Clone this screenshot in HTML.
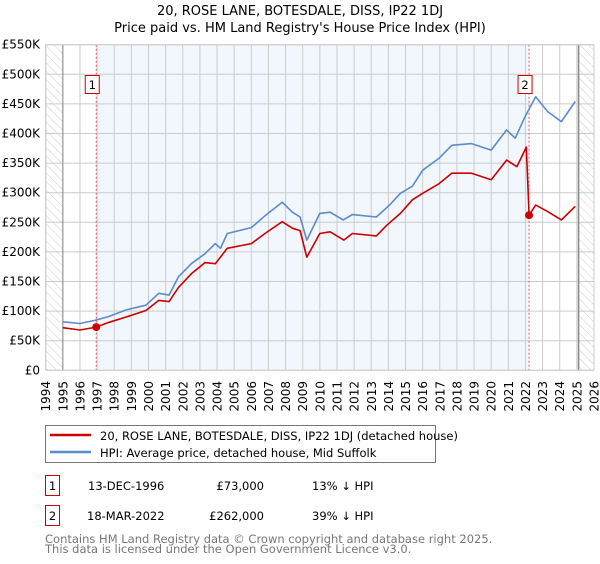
<!DOCTYPE html>
<html><head><meta charset="utf-8">
<style>
body{margin:0;background:#fff;font-family:"DejaVu Sans","Liberation Sans",sans-serif;}
svg text{font-family:"DejaVu Sans","Liberation Sans",sans-serif;}
</style></head>
<body>
<svg id="chart" width="600" height="560" viewBox="0 0 600 560">
<defs>
<pattern id="hatch" width="6" height="6" patternUnits="userSpaceOnUse" patternTransform="rotate(-45)">
<line x1="0" y1="0" x2="0" y2="6" stroke="#ccc" stroke-width="1"/>
</pattern>
</defs>
<text x="300" y="15" text-anchor="middle" font-size="13" fill="#000">20, ROSE LANE, BOTESDALE, DISS, IP22 1DJ</text>
<text x="300" y="32" text-anchor="middle" font-size="13" fill="#000">Price paid vs. HM Land Registry's House Price Index (HPI)</text>
<g id="plot"></g>
<g>
<rect x="45.5" y="425.5" width="390" height="37" fill="#fff" stroke="#777" stroke-width="1"/>
<line x1="50" y1="435" x2="91" y2="435" stroke="#cc0000" stroke-width="2.5"/>
<text x="100" y="440" font-size="11.5" fill="#000">20, ROSE LANE, BOTESDALE, DISS, IP22 1DJ (detached house)</text>
<line x1="50" y1="452" x2="91" y2="452" stroke="#5b8ccc" stroke-width="2.5"/>
<text x="100" y="457" font-size="11.5" fill="#000">HPI: Average price, detached house, Mid Suffolk</text>
</g>
<g>
<rect x="45.5" y="475.5" width="14" height="20" fill="#fff" stroke="#cc0000"/>
<text x="52.5" y="490" text-anchor="middle" font-size="11.5">1</text>
<text x="88" y="490" font-size="11.5">13-DEC-1996</text>
<text x="264" y="490" text-anchor="end" font-size="11.5">£73,000</text>
<text x="312" y="490" font-size="11.5">13% ↓ HPI</text>
<rect x="45.5" y="505.5" width="14" height="20" fill="#fff" stroke="#cc0000"/>
<text x="52.5" y="520" text-anchor="middle" font-size="11.5">2</text>
<text x="87" y="520" font-size="11.5">18-MAR-2022</text>
<text x="264" y="520" text-anchor="end" font-size="11.5">£262,000</text>
<text x="312" y="520" font-size="11.5">39% ↓ HPI</text>
</g>
<text x="45" y="543" font-size="11.5" fill="#777">Contains HM Land Registry data © Crown copyright and database right 2025.</text>
<text x="45" y="553" font-size="11.5" fill="#777">This data is licensed under the Open Government Licence v3.0.</text>
</svg>
<script>
const yearTicks=[1994,1995,1996,1997,1998,1999,2000,2001,2002,2003,2004,2005,2006,2007,2008,2009,2010,2011,2012,2013,2014,2015,2016,2017,2018,2019,2020,2021,2022,2023,2024,2025,2026];
const valueTicks=[0,50,100,150,200,250,300,350,400,450,500,550];
const valueLabels=["£0","£50K","£100K","£150K","£200K","£250K","£300K","£350K","£400K","£450K","£500K","£550K"];
const hpiYears=[1995,1996,1996.96,1997.7,1998.7,1999.85,2000.6,2001.2,2001.75,2002.5,2003.3,2003.9,2004.2,2004.6,2006.0,2006.8,2007.8,2008.4,2008.85,2009.24,2010.0,2010.6,2011.36,2011.9,2013.3,2014.1,2014.7,2015.4,2016.0,2016.95,2017.7,2018.85,2020.0,2020.9,2021.4,2022.0,2022.6,2023.3,2024.1,2024.9];
const hpiValues=[82,79,85,91,102,110,130,127,158,180,197,214,206,231,241,261,284,267,259,220,265,267,254,263,259,280,299,311,338,358,380,383,372,406,392,430,462,437,420,454];
const propYears=[1995,1996,1996.95,1997.7,1998.7,1999.85,2000.6,2001.2,2001.75,2002.5,2003.3,2003.9,2004.6,2006.0,2006.8,2007.8,2008.4,2008.85,2009.24,2010.0,2010.6,2011.4,2011.9,2013.3,2013.9,2014.7,2015.4,2016.0,2016.95,2017.7,2018.85,2020.0,2020.9,2021.5,2022.05,2022.21,2022.6,2023.3,2024.1,2024.9];
const propValues=[72,68,73,81,90,101,118,116,140,163,182,180,206,214,231,251,240,236,191,231,234,220,231,227,245,265,288,299,315,333,333,322,355,344,377,262,279,268,254,277];
const saleYears=[1996.95,2022.21];
const saleValues=[73,262];
const saleLabels=["1","2"];

const NS="http://www.w3.org/2000/svg";
const L=45.7,R=594,T=44.7,B=370.3;
const X=y=>L+(y-1994)/(2026-1994)*(R-L);
const Y=v=>B-v/550*(B-T);
const g=document.getElementById('plot');
function mk(tag,attrs){const e=document.createElementNS(NS,tag);for(const k in attrs)e.setAttribute(k,attrs[k]);g.appendChild(e);return e;}

let e;
e=mk('rect',{x:X(1997),y:T,width:X(2022.21)-X(1997),height:B-T,fill:'#f2f6fd'});


e=mk('rect',{x:L,y:T,width:X(1995)-L,height:B-T,fill:'url(#hatch)'});


e=mk('rect',{x:X(2025.1),y:T,width:R-X(2025.1),height:B-T,fill:'url(#hatch)'});



yearTicks.forEach(yr=>{
 const l=mk('line',{x1:X(yr),x2:X(yr),y1:T,y2:B,stroke:'#ccc','stroke-width':1});
 
 
 const tx=X(yr)+4.5, ty=381;
 const t=mk('text',{x:tx,y:ty,'text-anchor':'end','font-size':12,fill:'#000',transform:`rotate(-90 ${tx} ${ty})`});
 t.textContent=yr;
 
 
});
valueTicks.forEach((v,i)=>{
 const l=mk('line',{x1:L,x2:R,y1:Y(v),y2:Y(v),stroke:'#ccc','stroke-width':1});
 
 
 const t=mk('text',{x:40,y:Y(v)+4,'text-anchor':'end','font-size':12,fill:'#000'});
 t.textContent=valueLabels[i];
 
 
});
e=mk('line',{x1:X(1995),x2:X(1995),y1:T,y2:B,stroke:'#888','stroke-width':1});


e=mk('line',{x1:X(2025.1),x2:X(2025.1),y1:T,y2:B,stroke:'#888','stroke-width':1.5});



saleYears.forEach((yr,i)=>{
 const l=mk('line',{x1:X(yr),x2:X(yr),y1:T,y2:B,stroke:'#e06060','stroke-width':1,'stroke-dasharray':'2,2'});
 
 
});

const pts=(xs,vs)=>xs.map((x,i)=>X(x).toFixed(1)+','+Y(vs[i]).toFixed(1)).join(' ');
e=mk('polyline',{points:pts(hpiYears,hpiValues),fill:'none',stroke:'#5b8ccc','stroke-width':1.6,'stroke-linejoin':'round'});


e=mk('polyline',{points:pts(propYears,propValues),fill:'none',stroke:'#cc0000','stroke-width':1.6,'stroke-linejoin':'round'});



saleYears.forEach((yr,i)=>{
 const c=mk('circle',{cx:X(yr),cy:Y(saleValues[i]),r:4,fill:'#cc0000'});
 
 
 const bx=X(yr)-7-4;
 const r=mk('rect',{x:bx,y:75.5,width:14,height:18,fill:'#fff',stroke:'#cc0000'});
 
 
 const t=mk('text',{x:bx+7,y:89,'text-anchor':'middle','font-size':11.5,fill:'#000'});
 t.textContent=saleLabels[i];
 
 
});
e=mk('rect',{x:L,y:T,width:R-L,height:B-T,fill:'none',stroke:'#ccc'});


</script>
</body></html>
